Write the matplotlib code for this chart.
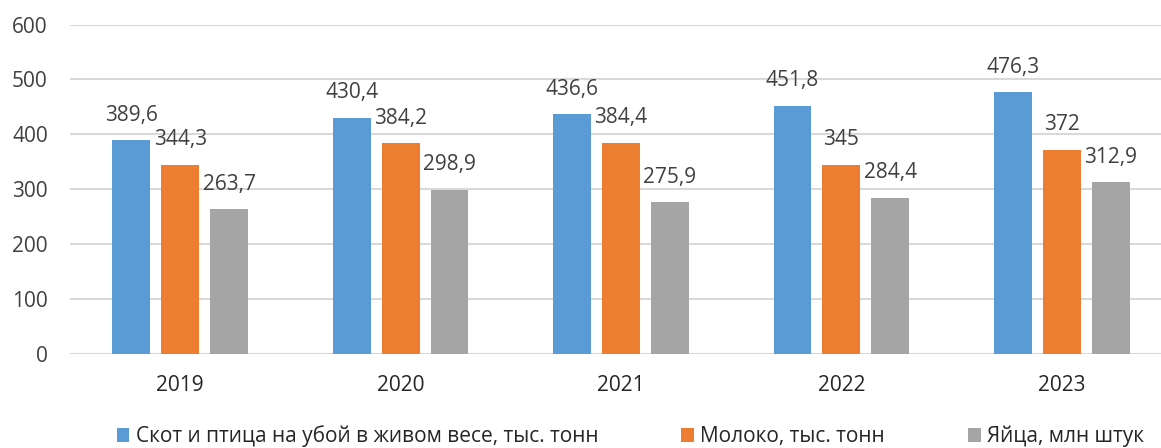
import matplotlib.pyplot as plt
import numpy as np

plt.rcParams['font.family'] = ['Open Sans', 'DejaVu Sans']

years = ['2019', '2020', '2021', '2022', '2023']
livestock = [389.6, 430.4, 436.6, 451.8, 476.3]
milk = [344.3, 384.2, 384.4, 345, 372]
eggs = [263.7, 298.9, 275.9, 284.4, 312.9]
series_names = ['Скот и птица на убой в живом весе, тыс. тонн',
                'Молоко, тыс. тонн',
                'Яйца, млн штук']
colors = ['#5B9BD5', '#ED7D31', '#A5A5A5']

fig = plt.figure(figsize=(11.61, 4.48), dpi=100)
ax = fig.add_axes([70 / 1161, 1 - 354 / 448, 1 - 70 / 1161, (354 - 24.5) / 448])

x = np.arange(len(years))
width = 0.172
step = 0.222
text_col = '#404040'

for i, (vals, name, c) in enumerate(zip([livestock, milk, eggs], series_names, colors)):
    pos = x + (i - 1) * step
    ax.bar(pos, vals, width=width, color=c, label=name, zorder=3)
    for px, v in zip(pos, vals):
        lbl = f'{v:g}'.replace('.', ',')
        ax.annotate(lbl, (px, v), xytext=(0, 18), textcoords='offset points',
                    ha='center', va='center', fontsize=15, color=text_col)

ax.set_xlim(-0.5, 4.45)
ax.set_ylim(0, 600)
ax.set_yticks(range(0, 601, 100))
ax.set_xticks(x)
ax.set_xticklabels(years)
ax.grid(axis='y', color='#D9D9D9', linewidth=1.5, zorder=0)
for s in ax.spines.values():
    s.set_visible(False)
ax.tick_params(axis='both', length=0, labelsize=15, labelcolor=text_col)
ax.tick_params(axis='x', pad=15, labelcolor='#262626')
ax.tick_params(axis='y', pad=16)

fig.legend(loc='center', bbox_to_anchor=(0.543, 0.026), ncol=3, frameon=False,
           fontsize=15, handlelength=0.6, handleheight=0.6, handletextpad=0.3,
           columnspacing=4.0, labelcolor='#262626')

fig.savefig('out.png', dpi=100)
